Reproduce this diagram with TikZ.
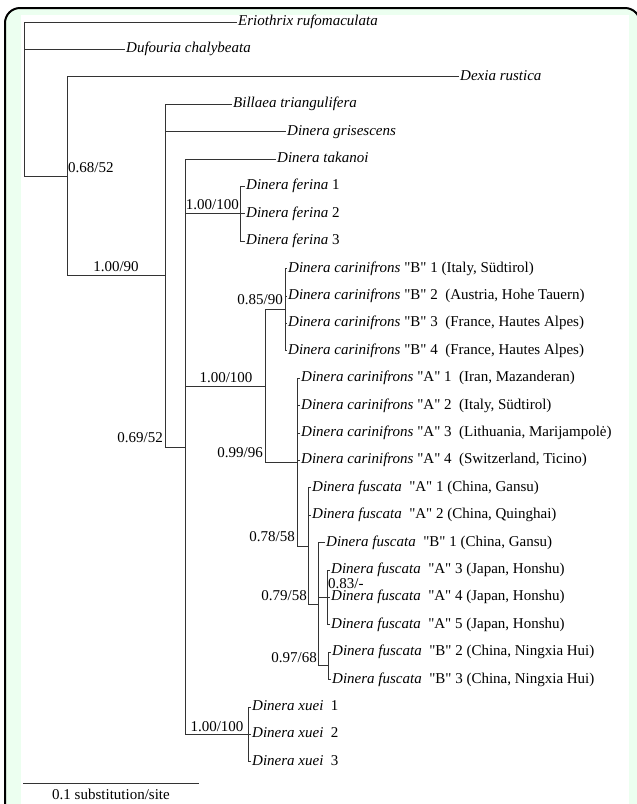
\documentclass[tikz,border=0pt]{standalone}
\usepackage{fontspec}
\setmainfont{Liberation Serif}[Ligatures=TeXOff]
\definecolor{bandgreen}{RGB}{236,255,240}
\tikzset{
  branch/.style={line width=0.9pt, black!80},
  tip/.style={anchor=west, inner sep=1pt, text height=10pt, text depth=3pt},
  supp/.style={inner sep=0pt},
}

\begin{document}
\begin{tikzpicture}[x=1pt, y=-1pt, font=\fontsize{15}{18}\selectfont]
    \useasboundingbox (0,0) rectangle (637,804);

    % frame
    \begin{scope}
      \clip (0,0) rectangle (637,804);
      \fill[bandgreen, rounded corners=15pt] (5,8) rectangle (640,840);
      \fill[white] (21,15) rectangle (629,840);
      \draw[line width=2pt, rounded corners=15pt] (5,8) rectangle (640,840);
    \end{scope}

    % tips
    \node[tip] (erio) at (237,22) {\textit{Eriothrix rufomaculata}};
    \node[tip] (dufo) at (125,49.4) {\textit{Dufouria chalybeata}};
    \node[tip] (dexia) at (459,76.8) {\textit{Dexia rustica}};
    \node[tip] (bill) at (232,104.2) {\textit{Billaea triangulifera}};
    \node[tip] (gris) at (286,131.6) {\textit{Dinera grisescens}};
    \node[tip] (taka) at (276,159) {\textit{Dinera takanoi}};
    \foreach \i/\y in {1/186.4,2/213.8,3/241.2}
    \node[tip] (fer\i) at (245,\y) {\textit{Dinera ferina}~\i};
    \foreach \i/\y/\loc in {1/268.6/{ (Italy, Südtirol)},2/296/{~ (Austria, Hohe Tauern)},3/323.4/{~ (France, Hautes Alpes)},4/350.8/{~ (France, Hautes Alpes)}}
    \node[tip] (cb\i) at (287,\y) {\textit{Dinera carinifrons} "B" \i\loc};
    \foreach \i/\y/\loc in {1/378.2/{Iran, Mazanderan},2/405.6/{Italy, Südtirol},3/433/{Lithuania, Marijampolė},4/460.4/{Switzerland, Ticino}}
    \node[tip] (ca\i) at (300,\y) {\textit{Dinera carinifrons} "A" \i~ (\loc)};
    \node[tip] (fa1) at (311,487.8) {\textit{Dinera fuscata}~ "A" 1 (China, Gansu)};
    \node[tip] (fa2) at (311,515.2) {\textit{Dinera fuscata}~ "A" 2 (China, Quinghai)};
    \node[tip] (fb1) at (325,542.6) {\textit{Dinera fuscata}~ "B" 1 (China, Gansu)};
    \foreach \i/\y in {3/570,4/597.4,5/624.8}
    \node[tip] (fa\i) at (330,\y) {\textit{Dinera fuscata}~ "A" \i\ (Japan, Honshu)};
    \foreach \i/\y in {2/652.2,3/679.6}
    \node[tip] (fb\i) at (331,\y) {\textit{Dinera fuscata}~ "B" \i\ (China, Ningxia Hui)};
    \foreach \i/\y in {1/707,2/734.4,3/761.8}
    \node[tip] (xu\i) at (251,\y) {\textit{Dinera xuei}~ \i};

    % internal nodes
    \coordinate (nRoot) at (24,176.5);
    \coordinate (nA) at (67,176.5);
    \coordinate (nB) at (165,275.5);
    \coordinate (nC) at (185,447);
    \coordinate (nFer) at (240,213.8);
    \coordinate (nCar) at (265,386);
    \coordinate (nCarB) at (285,309.7);
    \coordinate (nCarA) at (297,462);
    \coordinate (nF78) at (308,546);
    \coordinate (nF79) at (318,604);
    \coordinate (nF83) at (327,597.4);
    \coordinate (nF97) at (328,665.9);
    \coordinate (nXuei) at (248,734.4);

    % branches
    \begin{scope}[branch]
      \draw (nRoot) |- (erio.west);
      \draw (nRoot) |- (dufo.west);
      \draw (nRoot) -- (nA);
      \draw (nA) |- (dexia.west);
      \draw (nA) |- (nB);
      \draw (nB) |- (bill.west);
      \draw (nB) |- (gris.west);
      \draw (nB) |- (nC);
      \draw (nC) |- (taka.west);
      \draw (nC) |- (nFer);
      \draw (nC) |- (nCar);
      \draw (nC) |- (nXuei);
      \foreach \i in {1,2,3} \draw (nFer) |- (fer\i.west);
      \draw (nCar) |- (nCarB);
      \draw (nCar) |- (nCarA);
      \foreach \i in {1,...,4} \draw (nCarB) |- (cb\i.west);
      \foreach \i in {1,...,4} \draw (nCarA) |- (ca\i.west);
      \draw (nCarA) |- (nF78);
      \draw (nF78) |- (fa1.west);
      \draw (nF78) |- (fa2.west);
      \draw (nF78) |- (nF79);
      \draw (nF79) |- (fb1.west);
      \draw (nF79) |- (nF83);
      \draw (nF79) |- (nF97);
      \foreach \i in {3,4,5} \draw (nF83) |- (fa\i.west);
      \foreach \i in {2,3} \draw (nF97) |- (fb\i.west);
      \foreach \i in {1,2,3} \draw (nXuei) |- (xu\i.west);
    \end{scope}

    % support values
    \node[supp, anchor=base west] (sA) at (68,172) {0.68/52};
    \node[supp, anchor=base] (sB) at (116,271) {1.00/90};
    \node[supp, anchor=base east] (sC) at (163,442) {0.69/52};
    \node[supp, anchor=base east] (sFer) at (239,209) {1.00/100};
    \node[supp, anchor=base] (sCar) at (226,382) {1.00/100};
    \node[supp, anchor=base east] (sCarB) at (283,304) {0.85/90};
    \node[supp, anchor=base east] (sCarA) at (263,457) {0.99/96};
    \node[supp, anchor=base east] (sF78) at (295,541) {0.78/58};
    \node[supp, anchor=base east] (sF79) at (307,600) {0.79/58};
    \node[supp, anchor=base west] (sF83) at (328,588.5) {0.83/-};
    \node[supp, anchor=base east] (sF97) at (317,662) {0.97/68};
    \node[supp, anchor=base] (sXuei) at (217,731) {1.00/100};

    % scale bar
    \coordinate (sbL) at (23,783);
    \coordinate (sbR) at (199,783);
    \draw[branch] (sbL) -- (sbR);
    \node[supp, anchor=base] (sbT) at (111,799) {0.1 substitution/site};

\end{tikzpicture}
\end{document}
